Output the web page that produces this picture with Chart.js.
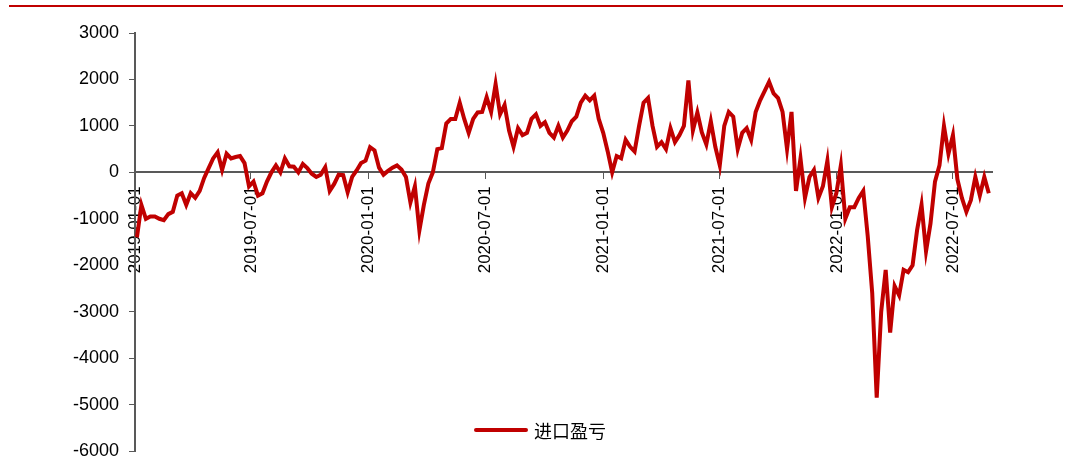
<!DOCTYPE html>
<html>
<head>
    <meta charset="utf-8">
    <title>进口盈亏</title>
    <script src="https://cdn.jsdelivr.net/npm/chart.js"></script>
    <style>
        body { margin: 0; background: #fff; }
        #wrap { position: relative; width: 1071px; height: 459px; }
        #topLine { position: absolute; left: 9px; top: 5px; width: 1054px; height: 2px; background: #C00000; }
        #legend { position: absolute; left: 474px; top: 417px; display: flex; align-items: center;
                  font-family: "Noto Sans CJK SC", sans-serif; font-size: 18px; color: #000; }
        #legend span.swatch { display: inline-block; width: 54px; height: 4px; border-radius: 2px;
                  background: #C00000; margin-right: 6px; }
    </style>
</head>
<body>
<div id="wrap">
    <canvas id="profitChart" width="1071" height="459"></canvas>
    <div id="topLine"></div>
    <div id="legend"><span class="swatch"></span><span id="legendText"></span></div>
</div>

<script>
    // weekly readings, first point on 2019-01-04
    var seriesName = "进口盈亏";
    var startDate = "2019-01-04";
    var stepDays = 7;
    var importProfit = [
        -1400, -700, -1000, -950, -950, -1000, -1030, -900, -850, -500,
        -450, -700, -450, -550, -400, -120, 90, 300, 430, 50,
        400, 300, 330, 350, 200, -300, -200, -500, -450, -200,
        0, 150, 0, 300, 130, 120, 0, 180, 90, -30,
        -100, -50, 110, -400, -250, -50, -60, -430, -100, 40,
        200, 250, 540, 470, 100, -50, 30, 100, 150, 60,
        -100, -650, -300, -1250, -700, -240, 0, 500, 520, 1050,
        1150, 1150, 1500, 1150, 850, 1150, 1290, 1300, 1620, 1300,
        1900, 1250, 1450, 900, 550, 950, 800, 850, 1150, 1250,
        1000, 1080, 850, 750, 1000, 750, 900, 1100, 1200, 1500,
        1650, 1550, 1650, 1150, 850, 450, 0, 350, 300, 700,
        550, 450, 1000, 1500, 1600, 1000, 550, 650, 500, 950,
        650, 800, 1000, 1980, 900, 1290, 860, 600, 1100, 550,
        150, 1000, 1300, 1200, 500, 850, 950, 700, 1300, 1550,
        1750, 1950, 1700, 1600, 1300, 500, 1300, -400, 300, -550,
        -100, 50, -550, -300, 250, -750, -450, 150, -1000, -750,
        -750, -550, -400, -1380, -2600, -4850, -3000, -2100, -3450, -2450,
        -2650, -2100, -2150, -2000, -1250, -700, -1700, -1100, -200, 150,
        1000, 400, 800, -150, -550, -850, -600, -100, -500, -100,
        -450
    ];
    var tickLabels = ["2019-01-01", "2019-07-01", "2020-01-01", "2020-07-01",
                      "2021-01-01", "2021-07-01", "2022-01-01", "2022-07-01"];
    var axisStart = "2019-01-01";
    var axisEnd = "2022-08-31";

    var DAY = 86400000;
    function dayOf(s) {
        return Math.round((Date.parse(s) - Date.parse(axisStart)) / DAY);
    }
    function labelOf(d) {
        return new Date(Date.parse(axisStart) + d * DAY).toISOString().slice(0, 10);
    }

    var points = importProfit.map(function (v, i) {
        return { x: dayOf(startDate) + i * stepDays, y: v };
    });

    document.getElementById("legendText").textContent = seriesName;

    var axisColor = "#595959";
    var fontFamily = "'Liberation Sans', Arial, sans-serif";

    new Chart(document.getElementById("profitChart"), {
        type: "line",
        data: {
            datasets: [{
                label: seriesName,
                data: points,
                borderColor: "#C00000",
                borderWidth: 4,
                pointRadius: 0,
                tension: 0,
                fill: false
            }]
        },
        options: {
            responsive: false,
            animation: false,
            layout: { padding: { left: 0, top: 33, right: 79, bottom: 8 } },
            plugins: { legend: { display: false }, tooltip: { enabled: false } },
            scales: {
                x: {
                    type: "linear",
                    position: { y: 0 },
                    min: dayOf(axisStart),
                    max: dayOf(axisEnd),
                    afterBuildTicks: function (scale) {
                        scale.ticks = tickLabels.map(function (t) { return { value: dayOf(t) }; });
                    },
                    afterFit: function (scale) {
                        scale.paddingTop = 0;
                        scale.paddingBottom = 0;
                    },
                    ticks: {
                        autoSkip: false,
                        minRotation: 90,
                        maxRotation: 90,
                        padding: 8,
                        color: "#000",
                        font: { family: fontFamily, size: 17 },
                        callback: function (v) { return labelOf(v); }
                    },
                    grid: { drawOnChartArea: false, drawTicks: true, tickLength: 6, color: axisColor, lineWidth: 1 },
                    border: { color: axisColor, width: 2 }
                },
                y: {
                    min: -6000,
                    max: 3000,
                    afterFit: function (scale) {
                        scale.width = 135;
                        scale.paddingTop = 0;
                        scale.paddingBottom = 0;
                    },
                    ticks: {
                        stepSize: 1000,
                        padding: 10,
                        color: "#000",
                        font: { family: fontFamily, size: 18 },
                        callback: function (v) { return String(v); }
                    },
                    grid: { drawOnChartArea: false, drawTicks: true, tickLength: 6, color: axisColor, lineWidth: 1 },
                    border: { color: axisColor, width: 2 }
                }
            }
        }
    });
</script>
</body>
</html>
